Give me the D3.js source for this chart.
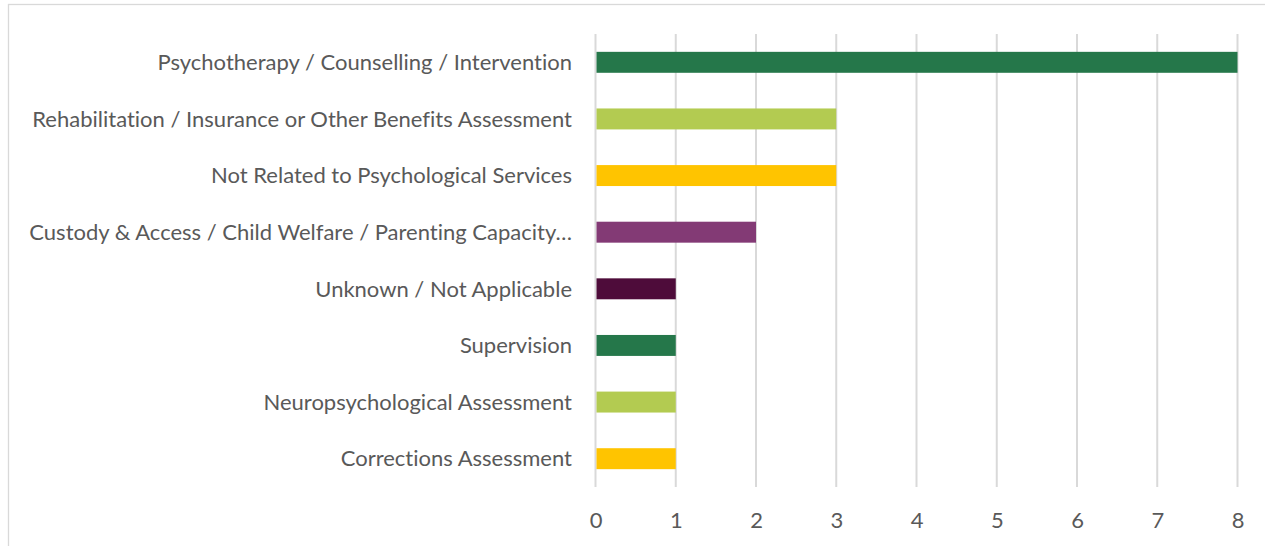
<!DOCTYPE html>
<html><head><meta charset="utf-8">
<script src="https://cdn.jsdelivr.net/npm/d3@7"></script>
<style>body{margin:0;background:#fff;overflow:hidden}svg{display:block}text{font-variant-ligatures:none;font-feature-settings:"liga" 0}</style>
</head><body>
<svg id="c" width="1265" height="546"></svg>
<script>
const categories = [
  "Psychotherapy / Counselling / Intervention",
  "Rehabilitation / Insurance or Other Benefits Assessment",
  "Not Related to Psychological Services",
  "Custody & Access / Child Welfare / Parenting Capacity…",
  "Unknown / Not Applicable",
  "Supervision",
  "Neuropsychological Assessment",
  "Corrections Assessment"
];
const values = [8, 3, 3, 2, 1, 1, 1, 1];
const colors = ["#25774A", "#B3CB51", "#FFC400", "#833A75", "#4E0C3A", "#25774A", "#B3CB51", "#FFC400"];
const xTicks = [0, 1, 2, 3, 4, 5, 6, 7, 8];

const svg = d3.select("#c");
const font = "Lato, 'Open Sans', sans-serif";
const textColor = "#595959";

// chart frame
svg.append("rect").attr("x", 8.5).attr("y", 4.5).attr("width", 1300).attr("height", 600)
  .attr("fill", "none").attr("stroke", "#d9d9d9").attr("stroke-width", 1.3);

const x = d3.scaleLinear().domain([0, 8]).range([595.5, 1237.5]);
const y = d3.scaleBand().domain(categories).range([34, 487]).paddingInner(0.63).paddingOuter(0.315);

// gridlines
svg.append("g").selectAll("line").data(xTicks).join("line")
  .attr("x1", d => x(d)).attr("x2", d => x(d))
  .attr("y1", 34).attr("y2", 487)
  .attr("stroke", "#d9d9d9").attr("stroke-width", 2);

// bars
svg.append("g").selectAll("rect").data(values).join("rect")
  .attr("x", x(0) + 1)
  .attr("y", (d, i) => y(categories[i]))
  .attr("width", d => x(d) - x(0) - 1)
  .attr("height", y.bandwidth())
  .attr("fill", (d, i) => colors[i]);

// x axis
const xAxis = d3.axisBottom(x).tickValues(xTicks).tickSize(0).tickPadding(0);
const gx = svg.append("g").attr("transform", "translate(0,520)").call(xAxis);
gx.select(".domain").remove();
gx.selectAll("text").attr("dy", "0.35em").attr("y", 0)
  .style("font-family", font).style("font-size", "22px").attr("fill", textColor);

// y axis
const yAxis = d3.axisLeft(y).tickSize(0).tickPadding(0);
const gy = svg.append("g").attr("transform", "translate(572,0)").call(yAxis);
gy.select(".domain").remove();
gy.selectAll("text").attr("dy", "0.35em").attr("x", 0)
  .style("font-family", font).style("font-size", "22px").attr("fill", textColor);

</script>
</body></html>
